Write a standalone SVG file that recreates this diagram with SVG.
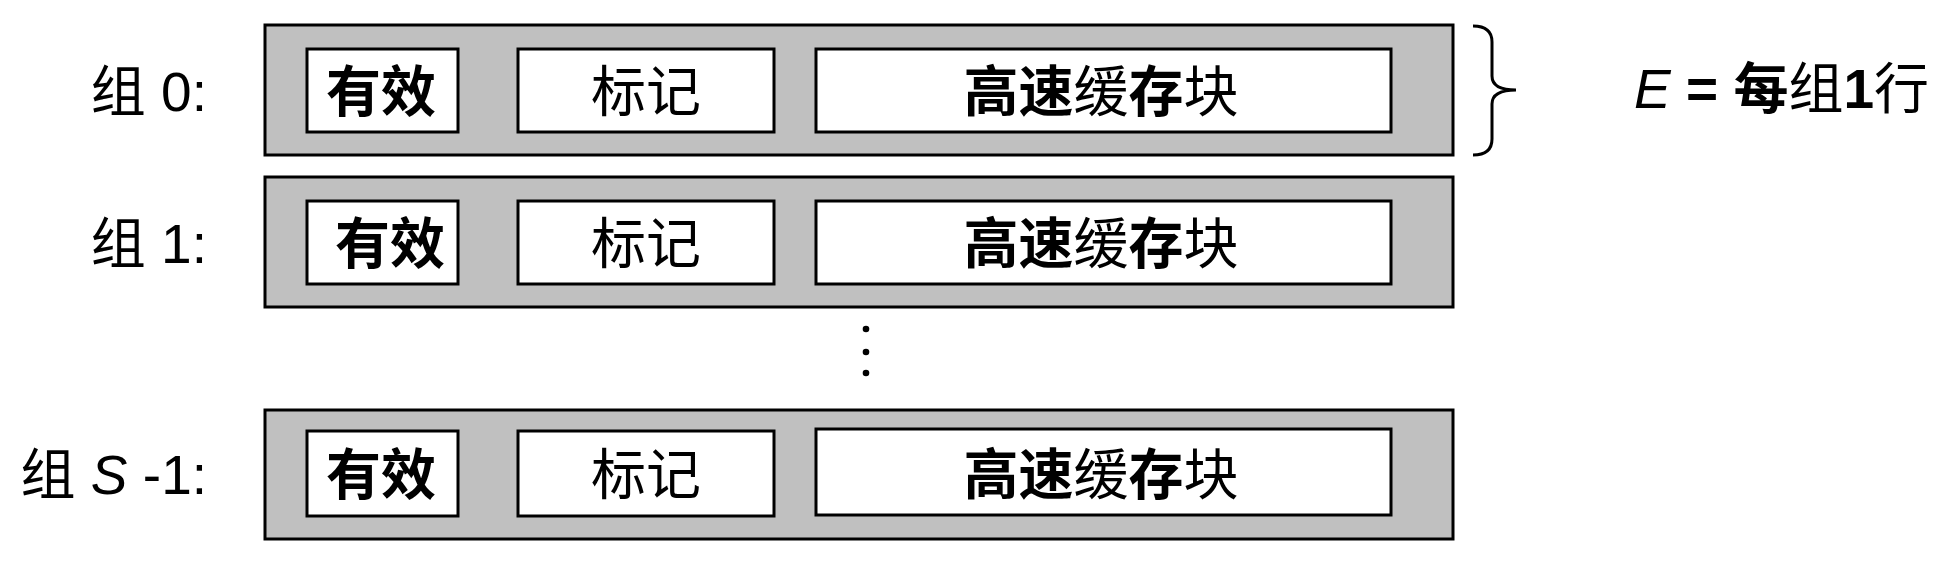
<svg xmlns="http://www.w3.org/2000/svg" width="1944" height="582" viewBox="0 0 1944 582">
<style>
.outer{fill:#c0c0c0;stroke:#000;stroke-width:3}
.cell{fill:#fff;stroke:#000;stroke-width:3}
text{font-family:"Liberation Sans","Noto Sans CJK SC",sans-serif;font-size:55px;fill:#000}
.c{text-anchor:middle}
.lbl{text-anchor:end}
.b{font-weight:bold}
.r{font-weight:normal}
.brace{fill:none;stroke:#000;stroke-width:3}
</style>
<rect width="1944" height="582" fill="#fff"/>
<g id="set0">
<rect class="outer" x="265" y="25" width="1188" height="130"/>
<rect class="cell" x="307" y="49" width="151" height="83"/>
<rect class="cell" x="518" y="49" width="256" height="83"/>
<rect class="cell" x="816" y="49" width="575" height="83"/>
<text class="lbl" x="207" y="111">组 0:</text>
<text class="c b" x="381" y="111">有效</text>
<text class="c" x="646" y="111">标记</text>
<text class="c" x="1101" y="111"><tspan class="b">高速</tspan><tspan class="r">缓</tspan><tspan class="b">存</tspan><tspan class="r">块</tspan></text>
</g>
<g id="set1">
<rect class="outer" x="265" y="177" width="1188" height="130"/>
<rect class="cell" x="307" y="201" width="151" height="83"/>
<rect class="cell" x="518" y="201" width="256" height="83"/>
<rect class="cell" x="816" y="201" width="575" height="83"/>
<text class="lbl" x="207" y="263">组 1:</text>
<text class="c b" x="390" y="263">有效</text>
<text class="c" x="646" y="263">标记</text>
<text class="c" x="1101" y="263"><tspan class="b">高速</tspan><tspan class="r">缓</tspan><tspan class="b">存</tspan><tspan class="r">块</tspan></text>
</g>
<g id="dots">
<circle cx="866" cy="329" r="3.3"/>
<circle cx="866" cy="352" r="3.3"/>
<circle cx="866" cy="373" r="3.3"/>
</g>
<g id="setS">
<rect class="outer" x="265" y="410" width="1188" height="129"/>
<rect class="cell" x="307" y="431" width="151" height="85"/>
<rect class="cell" x="518" y="431" width="256" height="85"/>
<rect class="cell" x="816" y="429" width="575" height="86"/>
<text class="lbl" x="207" y="494">组 <tspan font-style="italic">S</tspan> -1:</text>
<text class="c b" x="381" y="494">有效</text>
<text class="c" x="646" y="494">标记</text>
<text class="c" x="1101" y="494"><tspan class="b">高速</tspan><tspan class="r">缓</tspan><tspan class="b">存</tspan><tspan class="r">块</tspan></text>
</g>
<g id="connectors">
<path class="brace" d="M1473,26 Q1492,26 1492,42 L1492,76 Q1492,90 1516,90 Q1492,90 1492,104 L1492,139 Q1492,155 1473,155"/>
</g>
<g id="note">
<text x="1634" y="108"><tspan font-style="italic">E</tspan> <tspan class="b">=</tspan> <tspan class="b">每</tspan>组<tspan class="b">1</tspan>行</text>
</g>
</svg>
